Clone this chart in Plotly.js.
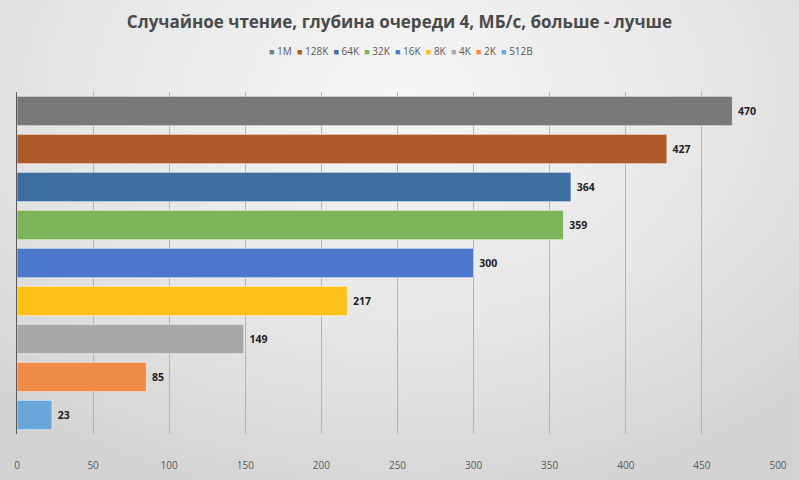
<!DOCTYPE html>
<html>
<head>
<meta charset="utf-8">
<script src="https://cdn.plot.ly/plotly-3.0.1.min.js"></script>
<style>
html,body{margin:0;padding:0;}
#chart{width:799px;height:480px;background:radial-gradient(ellipse 75% 90% at 50% 20%, #f6f6f6 0%, #e6e6e6 55%, #d2d2d2 100%);}
</style>
</head>
<body>
<div id="chart"></div>
<script>
const categories = ["1M","128K","64K","32K","16K","8K","4K","2K","512B"];
const values = [470, 427, 364, 359, 300, 217, 149, 85, 23];
const colors = ["#787878","#ae5a2a","#3d6e9f","#7cb45a","#4b78cb","#fdc118","#a7a7a7","#f08c48","#6aa6dc"];
const xTicks = [0,50,100,150,200,250,300,350,400,450,500];

const traces = categories.map((c, i) => ({
  type: 'bar',
  orientation: 'h',
  name: c,
  y: [c],
  x: [values[i]],
  width: 0.77,
  marker: {color: colors[i], line: {color: 'rgba(255,255,255,0.55)', width: 1}},
  text: ['\u00a0' + values[i]],
  textposition: 'outside',
  cliponaxis: false,
  textfont: {family: 'Open Sans, sans-serif', size: 10.5, color: '#222222', weight: 'bold'},
  hoverinfo: 'x+name',
  showlegend: false
}));

// Compact legend line built from the categories and colours
const legendText = categories.map((c, i) =>
  '<span style="color:' + colors[i] + ';font-size:9px">■</span> ' + c
).join('&nbsp;&nbsp;');

const layout = {
  width: 799, height: 480,
  paper_bgcolor: 'rgba(0,0,0,0)',
  plot_bgcolor: 'rgba(0,0,0,0)',
  margin: {l: 17, r: 21, t: 92, b: 46},
  barmode: 'overlay',
  title: {
    text: 'Случайное чтение, глубина очереди 4, МБ/с, больше - лучше',
    font: {family: 'Open Sans, sans-serif', size: 17, color: '#4a4a4a', weight: 'bold'},
    x: 0.5, xanchor: 'center', y: 0.955, yanchor: 'middle'
  },
  showlegend: false,
  annotations: [{
    text: legendText, xref: 'paper', yref: 'paper', x: 0.505, y: 1.12,
    xanchor: 'center', yanchor: 'middle', showarrow: false,
    font: {family: 'Open Sans, sans-serif', size: 10, color: '#595959'}
  }],
  xaxis: {
    range: [0, 500], tickvals: xTicks, ticktext: xTicks.map(String),
    showgrid: true, gridcolor: '#b4b4b4', gridwidth: 1,
    zeroline: false, showline: false, ticks: '', ticklabelstandoff: 24,
    tickfont: {family: 'Open Sans, sans-serif', size: 10, color: '#595959'},
    fixedrange: true
  },
  yaxis: {
    categoryorder: 'array', categoryarray: categories, autorange: 'reversed',
    showticklabels: false, showgrid: false, zeroline: false,
    showline: true, linecolor: '#5a5a5a', linewidth: 1.5, ticks: '',
    fixedrange: true
  }
};

Plotly.newPlot('chart', traces, layout, {displayModeBar: false, staticPlot: true});
</script>
</body>
</html>
